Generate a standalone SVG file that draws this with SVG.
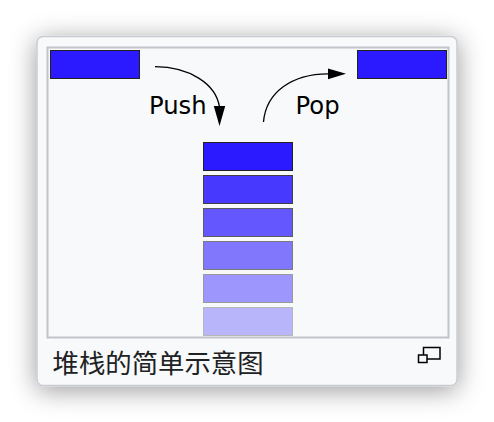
<svg xmlns="http://www.w3.org/2000/svg" width="494" height="422" viewBox="0 0 494 422">
  <defs>
    <filter id="shadow" x="-25%" y="-25%" width="150%" height="150%">
      <feDropShadow dx="0" dy="4" stdDeviation="13" flood-color="#000" flood-opacity="0.4"/>
    </filter>
  </defs>
  <style>
    .box { fill: #2b1aff; stroke: #222; stroke-width: 1; }
    .lbl { font-family: "DejaVu Sans", sans-serif; font-size: 24.3px; fill: #000; }
    .cap { font-family: "Noto Sans CJK SC", sans-serif; font-size: 26.4px; fill: #202122; }
    .conn { fill: none; stroke: #000; stroke-width: 1.3; }
  </style>
  <rect width="494" height="422" fill="#fff"/>
  <g id="card">
    <rect x="37" y="36.5" width="420" height="349" rx="6" fill="#f8f9fa" stroke="#c8ccd1" stroke-width="1.5" filter="url(#shadow)"/>
    <rect x="47.5" y="47.5" width="401" height="290" fill="#f8f9fa" stroke="#c0c4ca" stroke-width="2"/>
  </g>
  <g id="push-item"><rect class="box" x="50.5" y="50.5" width="89" height="28"/></g>
  <g id="pop-item"><rect class="box" x="357.5" y="50.5" width="89" height="28"/></g>
  <g id="stack">
    <rect class="box" x="203.5" y="142.5" width="89" height="28"/>
    <rect class="box" x="203.5" y="175.5" width="89" height="28" opacity="0.86"/>
    <rect class="box" x="203.5" y="208.5" width="89" height="28" opacity="0.72"/>
    <rect class="box" x="203.5" y="241.5" width="89" height="28" opacity="0.58"/>
    <rect class="box" x="203.5" y="274.5" width="89" height="28" opacity="0.44"/>
    <rect class="box" x="203.5" y="307.5" width="89" height="28" opacity="0.3"/>
  </g>
  <g id="connectors">
    <path class="conn" d="M155,66.7 C190,67 216,84 219.5,107"/>
    <path d="M213.8,106 L225.2,106 L219.5,126 Z" fill="#000"/>
    <path class="conn" d="M263.5,122 C266,92 292,74 328,73.8"/>
    <path d="M328,68.5 L346,73.8 L328,79.3 Z" fill="#000"/>
  </g>
  <g id="labels">
    <text class="lbl" x="149" y="114">Push</text>
    <text class="lbl" x="295.5" y="114">Pop</text>
  </g>
  <g id="caption">
    <text class="cap" x="52.5" y="372.5">堆栈的简单示意图</text>
    <g id="enlarge-icon" fill="#f8f9fa" stroke="#000" stroke-width="1.5">
      <rect x="423.5" y="347.5" width="16.5" height="11.5"/>
      <rect x="418.5" y="355" width="8.5" height="7.5"/>
    </g>
  </g>
</svg>
